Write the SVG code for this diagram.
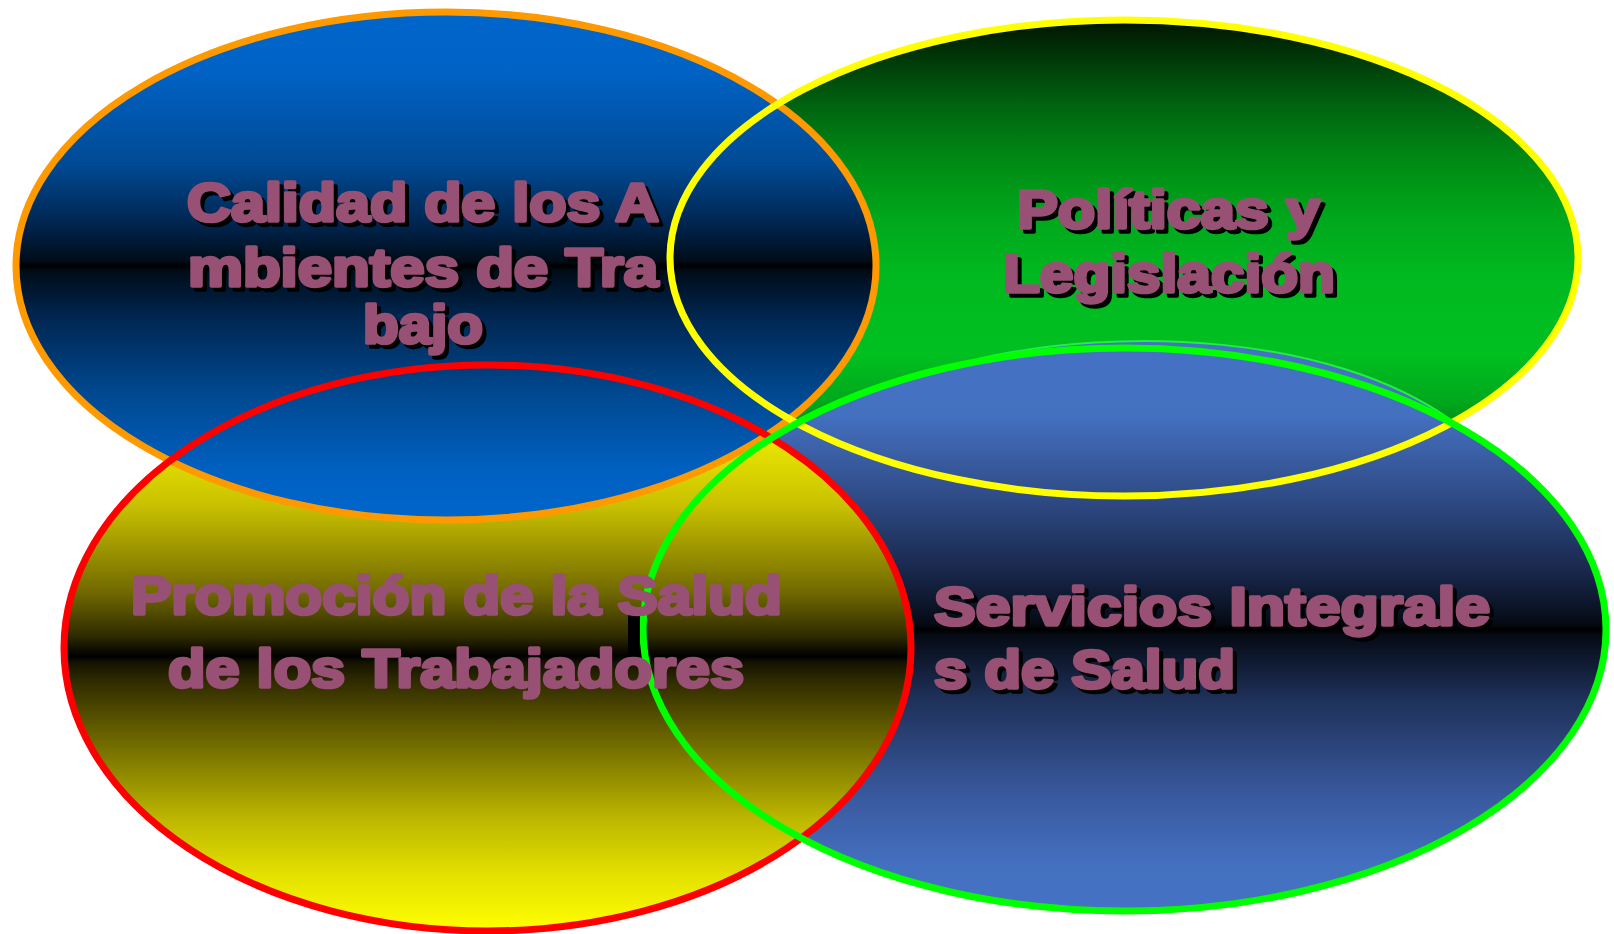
<svg xmlns="http://www.w3.org/2000/svg" width="1614" height="934" viewBox="0 0 1614 934">
  <defs>
    <linearGradient id="gBlue1" x1="0" y1="0" x2="0" y2="1">
      <stop offset="0" stop-color="#0066cc"/>
      <stop offset="0.12" stop-color="#0062c4"/>
      <stop offset="0.3" stop-color="#004a94"/>
      <stop offset="0.42" stop-color="#00244e"/>
      <stop offset="0.49" stop-color="#000c18"/>
      <stop offset="0.5" stop-color="#000000"/>
      <stop offset="0.51" stop-color="#000c18"/>
      <stop offset="0.6" stop-color="#002650"/>
      <stop offset="0.75" stop-color="#004890"/>
      <stop offset="0.9" stop-color="#0060c0"/>
      <stop offset="1" stop-color="#0066cc"/>
    </linearGradient>
    <linearGradient id="gGreen" x1="0" y1="0" x2="0" y2="1">
      <stop offset="0" stop-color="#001400"/>
      <stop offset="0.17" stop-color="#006010"/>
      <stop offset="0.3" stop-color="#008c14"/>
      <stop offset="0.42" stop-color="#00a81c"/>
      <stop offset="0.55" stop-color="#00ba20"/>
      <stop offset="0.7" stop-color="#00c020"/>
      <stop offset="0.8" stop-color="#00a81c"/>
      <stop offset="0.9" stop-color="#007a12"/>
      <stop offset="1" stop-color="#005a0c"/>
    </linearGradient>
    <linearGradient id="gYellow" x1="0" y1="0" x2="0" y2="1">
      <stop offset="0" stop-color="#ffff00"/>
      <stop offset="0.12" stop-color="#eeea00"/>
      <stop offset="0.25" stop-color="#c8c000"/>
      <stop offset="0.4" stop-color="#726a00"/>
      <stop offset="0.48" stop-color="#2e2a00"/>
      <stop offset="0.505" stop-color="#0c0a00"/>
      <stop offset="0.515" stop-color="#000000"/>
      <stop offset="0.525" stop-color="#141200"/>
      <stop offset="0.56" stop-color="#302c00"/>
      <stop offset="0.64" stop-color="#605a00"/>
      <stop offset="0.8" stop-color="#bcb600"/>
      <stop offset="0.9" stop-color="#e4e000"/>
      <stop offset="1" stop-color="#ffff00"/>
    </linearGradient>
    <linearGradient id="gBlue2" gradientUnits="userSpaceOnUse" x1="0" y1="348" x2="0" y2="911">
      <stop offset="0" stop-color="#4472c4"/>
      <stop offset="0.12" stop-color="#4470c0"/>
      <stop offset="0.27" stop-color="#2e4a84"/>
      <stop offset="0.4" stop-color="#18264a"/>
      <stop offset="0.49" stop-color="#050a14"/>
      <stop offset="0.5" stop-color="#000000"/>
      <stop offset="0.51" stop-color="#050a14"/>
      <stop offset="0.62" stop-color="#1e3058"/>
      <stop offset="0.8" stop-color="#3a5aa0"/>
      <stop offset="0.92" stop-color="#4470c0"/>
      <stop offset="1" stop-color="#4472c4"/>
    </linearGradient>
  </defs>
  <style>
    .outline { fill: none; stroke-width: 7; }
    .lbl { font-family: "Liberation Sans", Arial, sans-serif; font-weight: bold; font-size: 54px; fill: #985175; stroke: #985175; stroke-width: 3.5; stroke-linejoin: round; }
    .shd { font-family: "Liberation Sans", Arial, sans-serif; font-weight: bold; font-size: 54px; fill: #000000; stroke: #000000; stroke-width: 3.5; stroke-linejoin: round; }
  </style>
  <rect x="0" y="0" width="1614" height="934" fill="#ffffff"/>

  <g id="node-politicas">
    <ellipse cx="1124" cy="258" rx="454" ry="238" fill="url(#gGreen)"/>
  </g>
  <g id="node-servicios">
    <ellipse cx="1124.5" cy="629.5" rx="481.5" ry="281.5" fill="url(#gBlue2)"/>
    <path d="M 978 359 C 1120 326, 1330 334, 1451 420 L 1400 450 L 1000 400 Z" fill="url(#gBlue2)"/>
    <path d="M 978 359 C 1120 326, 1330 334, 1451 420" fill="none" stroke="#22ee44" stroke-width="2"/>
  </g>
  <g id="node-promocion">
    <ellipse cx="487.5" cy="648" rx="423.5" ry="283" fill="url(#gYellow)"/>
  </g>
  <g id="node-calidad">
    <ellipse cx="446" cy="266" rx="430" ry="254" fill="url(#gBlue1)"/>
  </g>

  <g id="connectors">
    <ellipse class="outline" cx="446" cy="266" rx="430" ry="254" stroke="#ff9900"/>
    <ellipse class="outline" cx="487.5" cy="648" rx="423.5" ry="283" stroke="#ff0000"/>
    <ellipse class="outline" cx="1124" cy="258" rx="454" ry="238" stroke="#ffff00"/>
    <ellipse class="outline" cx="1124.5" cy="629.5" rx="481.5" ry="281.5" stroke="#00ff00"/>
  </g>

  <g id="label-calidad">
    <text class="shd" x="191" y="225" textLength="472" lengthAdjust="spacingAndGlyphs">Calidad de los A</text>
    <text class="shd" x="192" y="290" textLength="470" lengthAdjust="spacingAndGlyphs">mbientes de Tra</text>
    <text class="shd" x="367" y="347" textLength="120" lengthAdjust="spacingAndGlyphs">bajo</text>
    <text class="lbl" x="187" y="221" textLength="472" lengthAdjust="spacingAndGlyphs">Calidad de los A</text>
    <text class="lbl" x="188" y="286" textLength="470" lengthAdjust="spacingAndGlyphs">mbientes de Tra</text>
    <text class="lbl" x="363" y="343" textLength="120" lengthAdjust="spacingAndGlyphs">bajo</text>
  </g>
  <g id="label-politicas">
    <text class="shd" x="1021" y="232" textLength="303" lengthAdjust="spacingAndGlyphs">Políticas y</text>
    <text class="shd" x="1007" y="296" textLength="332" lengthAdjust="spacingAndGlyphs">Legislación</text>
    <text class="lbl" x="1017" y="228" textLength="303" lengthAdjust="spacingAndGlyphs">Políticas y</text>
    <text class="lbl" x="1003" y="292" textLength="332" lengthAdjust="spacingAndGlyphs">Legislación</text>
  </g>
  <g id="label-promocion">
    <rect x="628" y="615" width="12" height="42" fill="#000000"/>
    <text class="lbl" x="131" y="614" textLength="651" lengthAdjust="spacingAndGlyphs">Promoción de la Salud</text>
    <text class="lbl" x="168" y="687" textLength="576" lengthAdjust="spacingAndGlyphs">de los Trabajadores</text>
  </g>
  <g id="label-servicios">
    <text class="shd" x="938" y="629" textLength="556" lengthAdjust="spacingAndGlyphs">Servicios Integrale</text>
    <text class="shd" x="938" y="692" textLength="301" lengthAdjust="spacingAndGlyphs">s de Salud</text>
    <text class="lbl" x="934" y="625" textLength="556" lengthAdjust="spacingAndGlyphs">Servicios Integrale</text>
    <text class="lbl" x="934" y="688" textLength="301" lengthAdjust="spacingAndGlyphs">s de Salud</text>
  </g>
</svg>
